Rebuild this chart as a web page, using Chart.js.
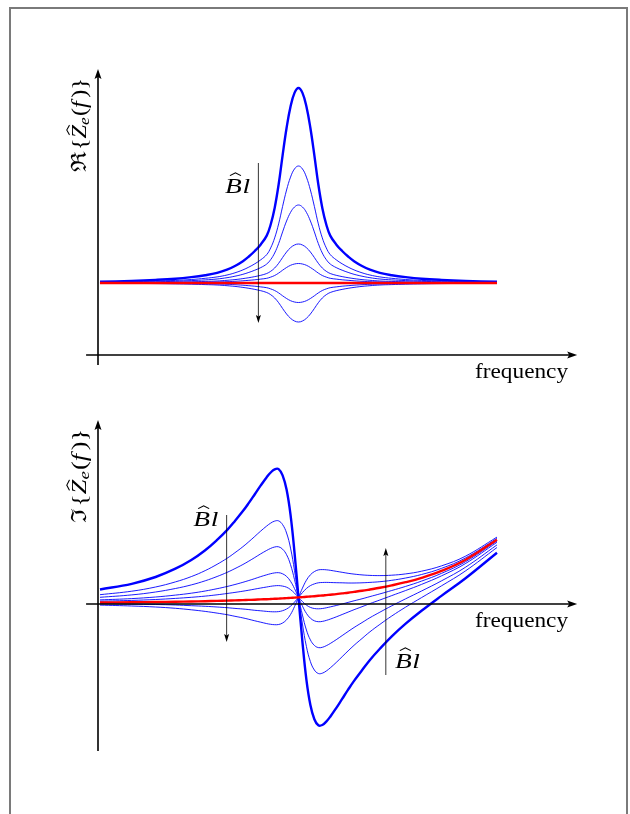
<!DOCTYPE html>
<html>
<head>
<meta charset="utf-8">
<title>Electrical impedance vs Bl</title>
<script src="https://cdn.jsdelivr.net/npm/chart.js@4.4.0/dist/chart.umd.min.js"></script>
<style>
  html, body { margin: 0; padding: 0; background: #fff; overflow: hidden; }
  body { width: 630px; height: 814px; position: relative; }
  #frame { position: absolute; left: 9px; top: 7px; width: 619px; height: 900px; border: 2px solid #7a7a7a; box-sizing: border-box; }
  canvas { position: absolute; left: 40px; }
  #realChart { top: 60px; }
  #imagChart { top: 410px; }
</style>
</head>
<body>
<div id="frame"></div>
<canvas id="realChart" width="560" height="340"></canvas>
<canvas id="imagChart" width="560" height="360"></canvas>
<script>
// frequency samples (arbitrary units, resonance at 50)
const freq = [0, 8, 14, 19, 23, 26.5, 29.5, 32, 34, 36, 37.5, 39, 40.5, 42, 43, 44, 45, 46, 47, 48, 49, 50,
  51, 52, 53, 54, 55, 56, 57, 58, 59.5, 61, 62.5, 64, 66, 68, 70.5, 73.5, 77, 81, 86, 92, 100]

// Re{Ze(f)}: Bl = 0 (red), then the Bl family, largest (bold) first
const reBl0 = [7.2, 7.2, 7.2, 7.2, 7.2, 7.2, 7.2, 7.2, 7.2, 7.2, 7.2, 7.2, 7.2, 7.2, 7.2, 7.2, 7.2, 7.2, 7.2, 7.2, 7.2, 7.2,
  7.2, 7.2, 7.2, 7.2, 7.2, 7.2, 7.2, 7.2, 7.2, 7.2, 7.2, 7.2, 7.2, 7.2, 7.2, 7.2, 7.2, 7.2, 7.2, 7.2, 7.2]
const reBl1 = [7.32, 7.41, 7.51, 7.63, 7.79, 7.98, 8.21, 8.53, 8.90, 9.38, 9.85, 10.40, 11.06, 11.94, 13.05, 14.71, 17.05, 19.97, 22.70, 24.85, 26.21, 26.70,
  26.21, 24.85, 22.70, 19.97, 17.05, 14.71, 13.05, 11.94, 11.06, 10.40, 9.85, 9.38, 8.90, 8.53, 8.21, 7.98, 7.79, 7.63, 7.51, 7.41, 7.32]
const reBl2 = [7.27, 7.33, 7.39, 7.46, 7.55, 7.67, 7.81, 8.00, 8.22, 8.51, 8.79, 9.12, 9.52, 10.04, 10.71, 11.71, 13.11, 14.86, 16.50, 17.79, 18.61, 18.90,
  18.61, 17.79, 16.50, 14.86, 13.11, 11.71, 10.71, 10.04, 9.52, 9.12, 8.79, 8.51, 8.22, 8.00, 7.81, 7.67, 7.55, 7.46, 7.39, 7.33, 7.27]
const reBl3 = [7.25, 7.28, 7.32, 7.37, 7.44, 7.51, 7.60, 7.73, 7.88, 8.07, 8.26, 8.48, 8.74, 9.10, 9.54, 10.20, 11.14, 12.31, 13.40, 14.26, 14.80, 15.00,
  14.80, 14.26, 13.40, 12.31, 11.14, 10.20, 9.54, 9.10, 8.74, 8.48, 8.26, 8.07, 7.88, 7.73, 7.60, 7.51, 7.44, 7.37, 7.32, 7.28, 7.25]
const reBl4 = [7.22, 7.24, 7.26, 7.29, 7.32, 7.36, 7.40, 7.47, 7.54, 7.64, 7.73, 7.84, 7.97, 8.15, 8.37, 8.70, 9.17, 9.75, 10.30, 10.73, 11.00, 11.10,
  11.00, 10.73, 10.30, 9.75, 9.17, 8.70, 8.37, 8.15, 7.97, 7.84, 7.73, 7.64, 7.54, 7.47, 7.40, 7.36, 7.32, 7.29, 7.26, 7.24, 7.22]
const reBl5 = [7.21, 7.22, 7.23, 7.24, 7.26, 7.28, 7.30, 7.33, 7.37, 7.42, 7.47, 7.52, 7.59, 7.67, 7.79, 7.95, 8.19, 8.48, 8.75, 8.97, 9.10, 9.15,
  9.10, 8.97, 8.75, 8.48, 8.19, 7.95, 7.79, 7.67, 7.59, 7.52, 7.47, 7.42, 7.37, 7.33, 7.30, 7.28, 7.26, 7.24, 7.23, 7.22, 7.21]
const reBl6 = [7.19, 7.18, 7.17, 7.16, 7.14, 7.12, 7.10, 7.07, 7.03, 6.98, 6.93, 6.88, 6.81, 6.73, 6.61, 6.45, 6.21, 5.92, 5.65, 5.43, 5.30, 5.25,
  5.30, 5.43, 5.65, 5.92, 6.21, 6.45, 6.61, 6.73, 6.81, 6.88, 6.93, 6.98, 7.03, 7.07, 7.10, 7.12, 7.14, 7.16, 7.17, 7.18, 7.19]
const reBl7 = [7.18, 7.16, 7.14, 7.11, 7.08, 7.04, 7.00, 6.93, 6.86, 6.76, 6.67, 6.56, 6.43, 6.25, 6.03, 5.70, 5.23, 4.65, 4.10, 3.67, 3.40, 3.30,
  3.40, 3.67, 4.10, 4.65, 5.23, 5.70, 6.03, 6.25, 6.43, 6.56, 6.67, 6.76, 6.86, 6.93, 7.00, 7.04, 7.08, 7.11, 7.14, 7.16, 7.18]

// Im{Ze(f)}
const imBl0 = [0.15, 0.17, 0.20, 0.23, 0.25, 0.28, 0.31, 0.34, 0.36, 0.39, 0.41, 0.43, 0.46, 0.48, 0.50, 0.52, 0.54, 0.56, 0.59, 0.61, 0.64, 0.66,
  0.69, 0.72, 0.75, 0.78, 0.82, 0.85, 0.89, 0.93, 0.99, 1.06, 1.13, 1.21, 1.32, 1.45, 1.62, 1.86, 2.18, 2.62, 3.31, 4.40, 6.43]
const imBl1 = [1.45, 2.02, 2.70, 3.53, 4.40, 5.38, 6.41, 7.39, 8.31, 9.29, 10.11, 10.98, 11.86, 12.68, 13.15, 13.47, 13.49, 12.86, 11.44, 8.91, 5.14, 0.66,
  -3.81, -7.58, -10.10, -11.52, -12.13, -12.10, -11.76, -11.27, -10.41, -9.49, -8.57, -7.69, -6.63, -5.60, -4.48, -3.24, -1.97, -0.68, 0.81, 2.55, 5.13]
const imBl2 = [0.93, 1.28, 1.70, 2.21, 2.74, 3.34, 3.97, 4.57, 5.13, 5.73, 6.23, 6.76, 7.30, 7.80, 8.09, 8.29, 8.31, 7.94, 7.10, 5.59, 3.34, 0.66,
  -2.01, -4.26, -5.76, -6.60, -6.95, -6.92, -6.70, -6.39, -5.85, -5.27, -4.69, -4.13, -3.45, -2.78, -2.04, -1.20, -0.31, 0.64, 1.81, 3.29, 5.65]
const imBl3 = [0.67, 0.91, 1.20, 1.55, 1.91, 2.32, 2.75, 3.16, 3.54, 3.95, 4.29, 4.65, 5.02, 5.36, 5.56, 5.70, 5.72, 5.48, 4.93, 3.93, 2.44, 0.66,
  -1.11, -2.60, -3.59, -4.14, -4.36, -4.33, -4.17, -3.95, -3.57, -3.16, -2.75, -2.35, -1.86, -1.37, -0.82, -0.18, 0.52, 1.30, 2.31, 3.66, 5.91]
const imBl4 = [0.41, 0.54, 0.70, 0.89, 1.08, 1.30, 1.53, 1.75, 1.95, 2.17, 2.35, 2.54, 2.74, 2.92, 3.03, 3.11, 3.13, 3.02, 2.76, 2.27, 1.54, 0.66,
  -0.21, -0.94, -1.42, -1.68, -1.77, -1.74, -1.64, -1.51, -1.29, -1.05, -0.81, -0.57, -0.27, 0.04, 0.40, 0.84, 1.35, 1.96, 2.81, 4.03, 6.17]
const imBl5 = [0.28, 0.36, 0.45, 0.56, 0.67, 0.79, 0.92, 1.05, 1.16, 1.28, 1.38, 1.49, 1.60, 1.70, 1.77, 1.82, 1.84, 1.79, 1.68, 1.44, 1.09, 0.66,
  0.24, -0.11, -0.34, -0.45, -0.48, -0.45, -0.38, -0.29, -0.15, 0.00, 0.16, 0.32, 0.52, 0.74, 1.01, 1.35, 1.76, 2.29, 3.06, 4.21, 6.30]
const imBl6 = [0.02, -0.02, -0.05, -0.10, -0.17, -0.23, -0.30, -0.37, -0.44, -0.50, -0.56, -0.63, -0.68, -0.74, -0.77, -0.78, -0.76, -0.67, -0.50, -0.22, 0.19, 0.66,
  1.14, 1.55, 1.84, 2.01, 2.12, 2.15, 2.16, 2.15, 2.13, 2.12, 2.10, 2.10, 2.12, 2.16, 2.23, 2.37, 2.60, 2.95, 3.56, 4.59, 6.56]
const imBl7 = [-0.11, -0.20, -0.30, -0.43, -0.58, -0.74, -0.91, -1.07, -1.23, -1.39, -1.53, -1.68, -1.82, -1.96, -2.03, -2.07, -2.05, -1.90, -1.58, -1.05, -0.26, 0.66,
  1.59, 2.38, 2.92, 3.24, 3.41, 3.44, 3.42, 3.37, 3.27, 3.17, 3.07, 2.99, 2.91, 2.86, 2.84, 2.88, 3.01, 3.28, 3.81, 4.77, 6.69]

const BLUE = '#0000ff'
const RED = '#ff0000'
const SERIF = '"Liberation Serif", "DejaVu Serif", serif'

/**
 * Builds one line dataset from a value array.
 */
function line(values, color, width) {
  return {
    data: freq.map((f, i) => ({ x: f, y: values[i] })),
    borderColor: color,
    borderWidth: width,
    pointRadius: 0,
    fill: false,
    tension: 0.4,
  }
}

function drawArrow(ctx, x1, y1, x2, y2, width, headLen, headWid) {
  const ang = Math.atan2(y2 - y1, x2 - x1)
  const bx = x2 - Math.cos(ang) * headLen * 0.8
  const by = y2 - Math.sin(ang) * headLen * 0.8
  ctx.lineWidth = width
  ctx.beginPath()
  ctx.moveTo(x1, y1)
  ctx.lineTo(bx, by)
  ctx.stroke()
  const px = -Math.sin(ang) * headWid / 2
  const py = Math.cos(ang) * headWid / 2
  const tx = x2 - Math.cos(ang) * headLen
  const ty = y2 - Math.sin(ang) * headLen
  ctx.beginPath()
  ctx.moveTo(x2, y2)
  ctx.lineTo(tx + px, ty + py)
  ctx.lineTo(bx, by)
  ctx.lineTo(tx - px, ty - py)
  ctx.closePath()
  ctx.fill()
}

// hat accent over a letter drawn at (x, base)
function drawHat(ctx, x, base, w, size) {
  const cx = x + w * 0.62
  const top = base - size * 0.92
  ctx.lineWidth = 1
  ctx.beginPath()
  ctx.moveTo(cx - size * 0.2, top + size * 0.13)
  ctx.lineTo(cx, top)
  ctx.lineTo(cx + size * 0.2, top + size * 0.13)
  ctx.stroke()
}

// B̂l, stretched to the width of the reference glyphs
function drawBl(ctx, x, base) {
  const size = 22
  ctx.save()
  ctx.font = `italic ${size}px ${SERIF}`
  ctx.textAlign = 'left'
  ctx.textBaseline = 'alphabetic'
  const wB = ctx.measureText('B').width
  const wl = ctx.measureText('l').width
  ctx.translate(x, base)
  ctx.scale(25 / (wB + wl + 0.5), 1)
  ctx.fillText('B', 0, 0)
  drawHat(ctx, 0, 0, wB, size)
  ctx.fillText('l', wB + 0.5, 0)
  ctx.restore()
}

// rotated y label:  sym{Ẑe(f)}
function drawYLabel(ctx, cx, cy, sym) {
  const size = 21
  const up = `${size}px ${SERIF}`
  const it = `italic ${size}px ${SERIF}`
  const parts = [
    { t: sym, font: up, pad: 1 },
    { t: '{', font: up },
    { t: 'Z', font: it, hat: true },
    { t: 'e', font: `italic ${Math.round(size * 0.7)}px ${SERIF}`, dy: 3, pad: 1 },
    { t: '(', font: up },
    { t: 'f', font: it, pad: 3 },
    { t: ')', font: up },
    { t: '}', font: up },
  ]
  let total = 0
  for (const p of parts) {
    ctx.font = p.font
    p.w = ctx.measureText(p.t).width + (p.pad || 0)
    total += p.w
  }
  ctx.save()
  ctx.translate(cx, cy)
  ctx.rotate(-Math.PI / 2)
  ctx.scale(94 / total, 1)
  ctx.textAlign = 'left'
  ctx.textBaseline = 'alphabetic'
  let x = -total / 2
  for (const p of parts) {
    ctx.font = p.font
    ctx.fillText(p.t, x, p.dy || 0)
    if (p.hat) drawHat(ctx, x, 0, p.w, size)
    x += p.w
  }
  ctx.restore()
}

function drawFrequency(ctx, right, base) {
  ctx.save()
  ctx.font = `21px ${SERIF}`
  const w = ctx.measureText('frequency').width
  ctx.translate(right, base)
  ctx.scale(93 / w, 1)
  ctx.textAlign = 'right'
  ctx.textBaseline = 'alphabetic'
  ctx.fillText('frequency', 0, 0)
  ctx.restore()
}

/**
 * Axes with arrow tips, axis labels and the Bl direction arrows.
 */
function decorations(cfg) {
  return {
    id: 'decorations',
    afterDatasetsDraw(chart) {
      const { ctx } = chart
      const { x, y } = chart.scales
      ctx.save()
      ctx.strokeStyle = '#000'
      ctx.fillStyle = '#000'
      // x axis
      drawArrow(ctx, x.getPixelForValue(-3.5), y.getPixelForValue(0), x.getPixelForValue(120.2), y.getPixelForValue(0), 1.6, 10, 7)
      // y axis
      drawArrow(ctx, x.getPixelForValue(-0.5), y.getPixelForValue(cfg.yFrom), x.getPixelForValue(-0.5), y.getPixelForValue(cfg.yTo), 1.6, 10, 7)
      drawFrequency(ctx, x.getPixelForValue(117.9), y.getPixelForValue(-2.25))
      drawYLabel(ctx, x.getPixelForValue(-3.5), y.getPixelForValue(cfg.labelY), cfg.sym)
      for (const a of cfg.arrows) {
        drawArrow(ctx, x.getPixelForValue(a.x), y.getPixelForValue(a.from), x.getPixelForValue(a.x), y.getPixelForValue(a.to), 0.8, 8, 5)
      }
      for (const l of cfg.labels) {
        drawBl(ctx, x.getPixelForValue(l.x), y.getPixelForValue(l.y))
      }
      ctx.restore()
    },
  }
}

function options(yMin, yMax) {
  return {
    responsive: false,
    animation: false,
    events: [],
    layout: { padding: 0 },
    plugins: { legend: { display: false }, tooltip: { enabled: false }, title: { display: false } },
    scales: {
      x: { type: 'linear', min: -15.11, max: 125.95, display: false },
      y: { type: 'linear', min: yMin, max: yMax, display: false },
    },
  }
}

function family(vals) {
  // red (Bl = 0) first so it is drawn on top
  return [
    line(vals[0], RED, 2.4),
    line(vals[1], BLUE, 2.4),
    ...vals.slice(2).map((v) => line(v, BLUE, 0.9)),
  ]
}

new Chart(document.getElementById('realChart'), {
  type: 'line',
  data: { datasets: family([reBl0, reBl1, reBl2, reBl3, reBl4, reBl5, reBl6, reBl7]) },
  options: options(-4.5, 29.5),
  plugins: [decorations({
    yFrom: -1.0, yTo: 28.6, labelY: 23.0, sym: 'ℜ',
    arrows: [{ x: 39.9, from: 19.2, to: 3.2 }],
    labels: [{ x: 31.5, y: 16.2 }],
  })],
})

new Chart(document.getElementById('imagChart'), {
  type: 'line',
  data: { datasets: family([imBl0, imBl1, imBl2, imBl3, imBl4, imBl5, imBl6, imBl7]) },
  options: options(-16.6, 19.4),
  plugins: [decorations({
    yFrom: -14.7, yTo: 18.4, labelY: 12.8, sym: 'ℑ',
    arrows: [{ x: 31.9, from: 8.9, to: -3.8 }, { x: 72.0, from: -7.1, to: 5.6 }],
    labels: [{ x: 23.5, y: 7.8 }, { x: 74.3, y: -6.4 }],
  })],
})
</script>
</body>
</html>
